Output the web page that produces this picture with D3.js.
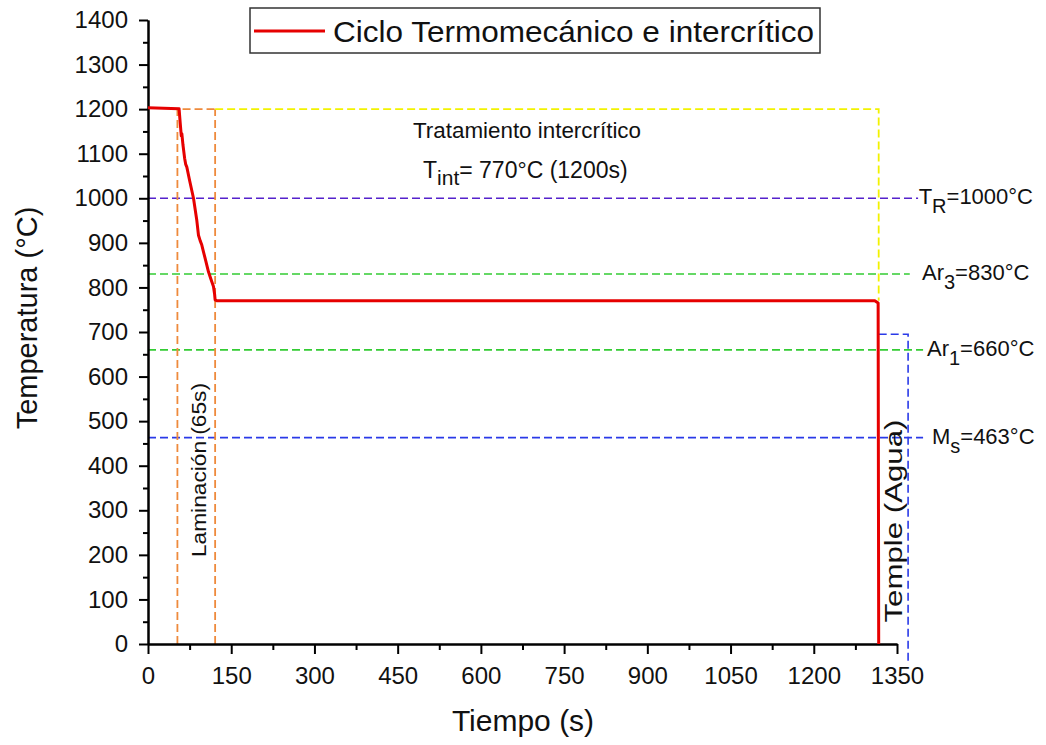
<!DOCTYPE html>
<html>
<head>
<meta charset="utf-8">
<script src="https://cdn.jsdelivr.net/npm/d3@7"></script>
<style>
  html, body { margin: 0; padding: 0; background: #fff; }
  svg { display: block; font-family: "Liberation Sans", Arial, sans-serif; }
</style>
</head>
<body>
<svg id="chart" width="1046" height="745"></svg>
<script>
// ---------- data ----------
const cycleTime = [0, 56, 58, 60, 61, 63, 66, 68, 70, 75, 82, 88, 91, 94, 97, 100, 104, 109, 113, 118, 120, 121, 124, 700, 1310, 1316, 1317];
const cycleTemp = [1203, 1201, 1170, 1140, 1145, 1120, 1090, 1076, 1070, 1040, 1000, 950, 917, 905, 895, 880, 860, 835, 820, 802, 785, 772, 770, 770, 770, 765, 0];

const xTicks = [0, 150, 300, 450, 600, 750, 900, 1050, 1200, 1350];
const yTicks = [0, 100, 200, 300, 400, 500, 600, 700, 800, 900, 1000, 1100, 1200, 1300, 1400];

// critical temperatures (horizontal dashed references)
const refTemps = [1000, 830, 660, 463];
const refEndTime = [1388, 1373, 1397, 1397];
const refMain = ["T", "Ar", "Ar", "M"];
const refSub = ["R", "3", "1", "s"];
const refRest = ["=1000°C", "=830°C", "=660°C", "=463°C"];

// process stage guides (time, temperature)
const lamStart = 53, lamEnd = 121, tAust = 1200;
const quenchTime = 1317, tInt = 770;
const quenchBoxTop = 695, quenchBoxTime = 1370, quenchBoxBottom = -45;

// ---------- layout ----------
const svg = d3.select("#chart");
const x = d3.scaleLinear().domain([0, 1350]).range([148, 897]);
const y = d3.scaleLinear().domain([0, 1400]).range([644, 20]);

const colRed = "#e60000", colOrange = "#ee8a3c", colYellow = "#f2f200",
      colPurple = "#5522cc", colGreen = "#33cc33", colBlue = "#2a3ae8";
const dash = "8,4";

const line = d3.line().x(d => x(d[0])).y(d => y(d[1]));

function dashed(pts, color, w) {
  svg.append("path").attr("d", line(pts)).attr("fill", "none")
    .attr("stroke", color).attr("stroke-width", w || 1.6).attr("stroke-dasharray", dash);
}

// reference lines
const refColors = [colPurple, colGreen, colGreen, colBlue];
const labelStart = [1389, 1395, 1404, 1413];
refTemps.forEach((t, i) => {
  dashed([[0, t], [refEndTime[i], t]], refColors[i]);
  const txt = svg.append("text").attr("x", x(labelStart[i])).attr("y", y(t) + 6)
    .attr("font-size", 22).attr("fill", "#111");
  txt.append("tspan").text(refMain[i]);
  txt.append("tspan").attr("font-size", 20).attr("dy", 9).text(refSub[i]);
  txt.append("tspan").attr("dy", -9).text(refRest[i]);
});

// lamination guides (orange)
dashed([[lamStart, 0], [lamStart, tAust], [lamEnd, tAust]], colOrange, 1.8);
dashed([[lamEnd, 0], [lamEnd, tAust]], colOrange, 1.8);
// intercritical treatment guide (yellow)
dashed([[lamEnd, tAust], [quenchTime, tAust], [quenchTime, tInt]], colYellow, 1.8);
// quench guide (blue)
dashed([[quenchTime, quenchBoxTop], [quenchBoxTime, quenchBoxTop], [quenchBoxTime, quenchBoxBottom]], colBlue, 1.6);

// axes
const fmt = d3.format("d");
const xAxis = d3.axisBottom(x).tickValues(xTicks).tickFormat(fmt).tickSize(10).tickSizeOuter(0).tickPadding(13);
const yAxis = d3.axisLeft(y).tickValues(yTicks).tickFormat(fmt).tickSize(9).tickSizeOuter(0).tickPadding(11);
const xMinor = d3.axisBottom(x).tickValues(d3.range(75, 1350, 150)).tickSize(6).tickSizeOuter(0).tickFormat("");
const yMinor = d3.axisLeft(y).tickValues(d3.range(50, 1400, 100)).tickSize(5).tickSizeOuter(0).tickFormat("");

function styleAxis(g) {
  g.select(".domain").attr("stroke", "#000").attr("stroke-width", 2);
  g.selectAll(".tick line").attr("stroke", "#000").attr("stroke-width", 2);
  g.selectAll(".tick text").attr("font-size", 24).attr("fill", "#111")
    .attr("font-family", "\"Liberation Sans\", Arial, sans-serif");
}
svg.append("g").attr("transform", `translate(0,${y(0)})`).call(xMinor).call(styleAxis);
svg.append("g").attr("transform", `translate(${x(0)},0)`).call(yMinor).call(styleAxis);
svg.append("g").attr("transform", `translate(0,${y(0)})`).call(xAxis).call(styleAxis);
svg.append("g").attr("transform", `translate(${x(0)},0)`).call(yAxis).call(styleAxis);

// main curve
svg.append("path").datum(cycleTime.map((t, i) => [t, cycleTemp[i]]))
  .attr("d", line).attr("fill", "none").attr("stroke", colRed)
  .attr("stroke-width", 3).attr("stroke-linejoin", "round");

// annotations
svg.append("text").attr("x", 527).attr("y", 138).attr("text-anchor", "middle")
  .attr("font-size", 22).attr("fill", "#111").attr("textLength", 228).attr("lengthAdjust", "spacingAndGlyphs")
  .text("Tratamiento intercrítico");
const ti = svg.append("text").attr("x", 423).attr("y", 178).attr("font-size", 23).attr("fill", "#111");
ti.append("tspan").text("T");
ti.append("tspan").attr("font-size", 21).attr("dy", 7).text("int");
ti.append("tspan").attr("dy", -7).text("= 770°C (1200s)");

svg.append("text").attr("transform", "translate(206,470) rotate(-90)").attr("text-anchor", "middle")
  .attr("font-size", 21).attr("fill", "#111").attr("textLength", 174).attr("lengthAdjust", "spacingAndGlyphs")
  .text("Laminación (65s)");
svg.append("text").attr("transform", "translate(902,521) rotate(-90)").attr("text-anchor", "middle")
  .attr("font-size", 23).attr("fill", "#111").attr("textLength", 203).attr("lengthAdjust", "spacingAndGlyphs")
  .text("Temple (Agua)");

// axis titles
svg.append("text").attr("transform", "translate(37,318) rotate(-90)").attr("text-anchor", "middle")
  .attr("font-size", 29).attr("fill", "#111").text("Temperatura (°C)");
svg.append("text").attr("x", 523).attr("y", 731).attr("text-anchor", "middle")
  .attr("font-size", 30).attr("fill", "#111").text("Tiempo (s)");

// legend
svg.append("rect").attr("x", 250).attr("y", 8).attr("width", 570).attr("height", 45)
  .attr("fill", "#fff").attr("stroke", "#333").attr("stroke-width", 1.5);
svg.append("line").attr("x1", 254).attr("x2", 325).attr("y1", 31).attr("y2", 31)
  .attr("stroke", colRed).attr("stroke-width", 3);
svg.append("text").attr("x", 333).attr("y", 42).attr("font-size", 29).attr("fill", "#111")
  .attr("textLength", 481).attr("lengthAdjust", "spacingAndGlyphs")
  .text("Ciclo Termomecánico e intercrítico");
</script>
</body>
</html>
